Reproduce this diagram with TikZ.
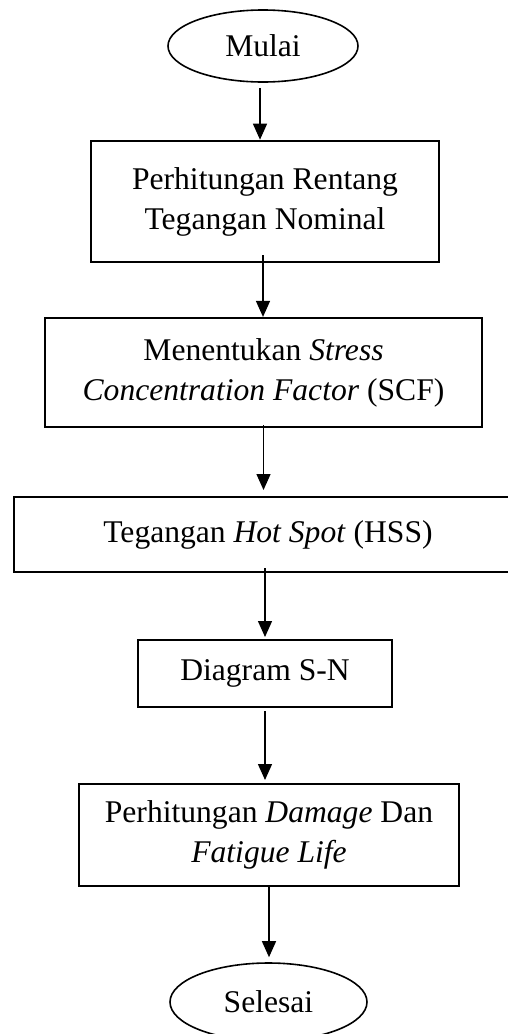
\documentclass[tikz,border=0pt]{standalone}
\usepackage{fontspec}
\setmainfont{Liberation Serif}
\usetikzlibrary{shapes.geometric,arrows.meta}
\begin{document}
\begin{tikzpicture}[x=1pt,y=-1pt,
  txt/.style={font=\fontsize{31.6}{40}\selectfont, align=center, inner sep=0pt},
  boxa/.style={txt, draw, rectangle, line width=2pt},
  term/.style={txt, draw, ellipse, line width=1.6pt},
  arr/.style={line width=1.4pt, -{Triangle[width=14pt,length=16pt]}}]
\useasboundingbox (0,0) rectangle (507,1034);
\node[term, minimum width=190pt, minimum height=72pt] (mulai) at (263,46) {Mulai};
\node[boxa, line width=2.6pt, minimum width=348pt, minimum height=121pt] (b1) at (265,201.5) {Perhitungan Rentang\\Tegangan Nominal};
\node[boxa, line width=2.2pt, minimum width=437pt, minimum height=109pt] (b2) at (263.5,372.5) {Menentukan \textit{Stress}\\\textit{Concentration Factor} (SCF)};
\node[boxa, minimum width=508pt, minimum height=75pt] (b3) at (268,534.5) {Tegangan \textit{Hot Spot} (HSS)};
\node[boxa, minimum width=254pt, minimum height=67pt] (b4) at (265,673.5) {Diagram S-N};
\node[boxa, minimum width=380pt, minimum height=102pt] (b5) at (269,835) {Perhitungan \textit{Damage} Dan\\\textit{Fatigue Life}};
\node[term, minimum width=197pt, minimum height=78pt] (selesai) at (268.5,1002) {Selesai};
\draw[arr] ([xshift=-3pt,yshift=-5pt]mulai.south) -- ([xshift=-3pt]mulai.south |- b1.north);
\draw[arr] ([xshift=-2pt,yshift=8pt]b1.south) -- ([xshift=-2pt]b1.south |- b2.north);
\draw[arr] ([yshift=3pt]b2.south) -- ([yshift=6pt]b2.south |- b3.north);
\draw[arr] ([yshift=5pt]b4.north |- b3.south) -- ([yshift=2pt]b4.north);
\draw[arr] ([yshift=-3pt]b4.south) -- ([yshift=3pt]b4.south |- b5.north);
\draw[arr] (b5.south) -- ([yshift=5pt]b5.south |- selesai.north);
\end{tikzpicture}
\end{document}
